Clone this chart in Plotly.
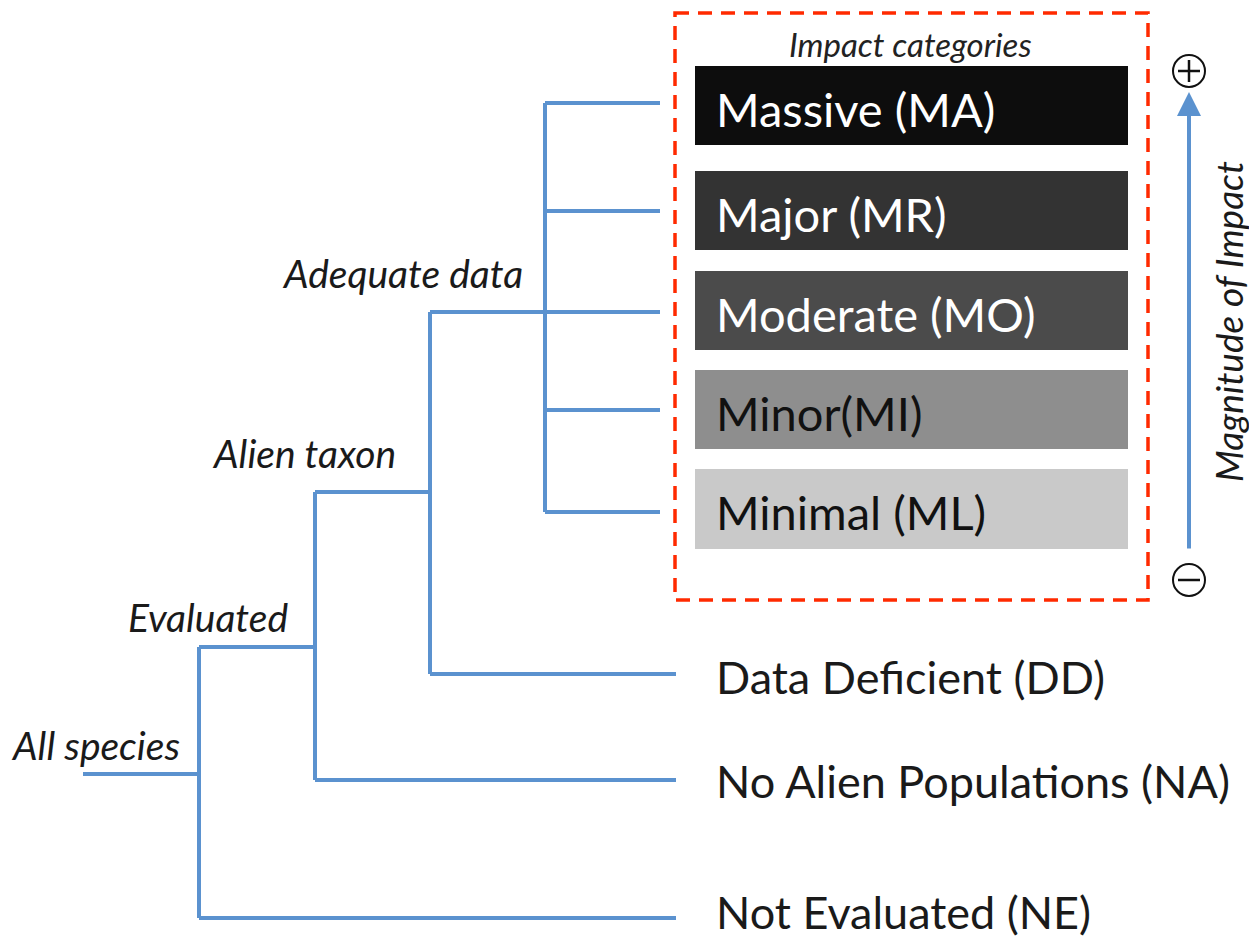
import plotly.graph_objects as go

# ---------------- data (labels / categories) ----------------
impact_categories = ["Massive (MA)", "Major (MR)", "Moderate (MO)", "Minor(MI)", "Minimal (ML)"]
impact_fill = ["#0d0d0d", "#333333", "#4b4b4b", "#8e8e8e", "#c9c9c9"]
impact_text_color = ["#ffffff", "#ffffff", "#ffffff", "#111111", "#111111"]
other_categories = ["Data Deficient (DD)", "No Alien Populations (NA)", "Not Evaluated (NE)"]
branch_labels = ["All species", "Evaluated", "Alien taxon", "Adequate data"]
box_title = "Impact categories"
axis_title = "Magnitude of Impact"

# ---------------- layout geometry (pixel space of the page) ----------------
W, H = 1257, 939
PAGE_MARGIN = 8  # default body margin of the html page
box_x0, box_x1 = 695, 1128
box_top = [66, 171, 271, 370, 469]
box_bot = [145, 250, 350, 449, 549]
impact_branch_y = [103, 211, 312, 410, 512]
other_y = [674, 780, 918]
other_text_y = [677, 781, 912]
label_x = 714
BLUE = "#5b92cf"
FONT = "Lato"

fig = go.Figure()

def seg(xs, ys, x0, y0, x1, y1):
    xs += [x0, x1, None]
    ys += [y0, y1, None]

tx, ty = [], []
seg(tx, ty, 83, 774, 199, 774)                 # All species
seg(tx, ty, 199, 647, 199, other_y[2])
seg(tx, ty, 199, 647, 315, 647)                # Evaluated
seg(tx, ty, 199, other_y[2], 676, other_y[2])  # NE
seg(tx, ty, 315, 492, 315, other_y[1])
seg(tx, ty, 315, other_y[1], 676, other_y[1])  # NA
seg(tx, ty, 315, 492, 430, 492)                # Alien taxon
seg(tx, ty, 430, 312, 430, other_y[0])
seg(tx, ty, 430, other_y[0], 676, other_y[0])  # DD
seg(tx, ty, 430, 312, 545, 312)                # Adequate data
seg(tx, ty, 545, impact_branch_y[0], 545, impact_branch_y[-1])
for yb in impact_branch_y:
    seg(tx, ty, 545, yb, 660, yb)

fig.add_trace(go.Scatter(x=tx, y=ty, mode="lines",
                         line=dict(color=BLUE, width=4), hoverinfo="skip",
                         showlegend=False))

shapes = []
annotations = []

# impact boxes
for i, cat in enumerate(impact_categories):
    shapes.append(dict(type="rect", xref="x", yref="y",
                       x0=box_x0, x1=box_x1, y0=box_top[i], y1=box_bot[i],
                       fillcolor=impact_fill[i], line=dict(width=0), layer="below"))
    annotations.append(dict(x=label_x, y=(box_top[i] + box_bot[i]) / 2 + 3, xref="x", yref="y",
                            text=cat, showarrow=False, xanchor="left", yanchor="middle",
                            font=dict(family=FONT, size=47, color=impact_text_color[i])))

# red dashed frame
shapes.append(dict(type="rect", xref="x", yref="y", x0=675, x1=1148, y0=13, y1=600,
                   line=dict(color="#ff2a00", width=3.5, dash="14px,9px"),
                   fillcolor="rgba(0,0,0,0)"))

annotations.append(dict(x=910, y=44, xref="x", yref="y", text="<i>" + box_title + "</i>",
                        showarrow=False, xanchor="center", yanchor="middle",
                        font=dict(family=FONT, size=33, color="#222222")))

# other categories
for i, cat in enumerate(other_categories):
    annotations.append(dict(x=label_x, y=other_text_y[i], xref="x", yref="y",
                            text=cat, showarrow=False, xanchor="left", yanchor="middle",
                            font=dict(family=FONT, size=45, color="#1a1a1a")))

# branch labels
branch_pos = [(182, 745), (290, 617), (398, 453), (525, 273)]
for lab, (bx, by) in zip(branch_labels, branch_pos):
    annotations.append(dict(x=bx, y=by, xref="x", yref="y", text="<i>" + lab + "</i>",
                            showarrow=False, xanchor="right", yanchor="middle",
                            font=dict(family=FONT, size=39, color="#1a1a1a")))

# magnitude arrow
annotations.append(dict(x=1189, y=92, ax=1189, ay=550, xref="x", yref="y",
                        axref="x", ayref="y", text="", showarrow=True,
                        arrowhead=2, arrowsize=1.2, arrowwidth=4, arrowcolor=BLUE))
annotations.append(dict(x=1228, y=322, xref="x", yref="y", text="<i>" + axis_title + "</i>",
                        showarrow=False, textangle=-90, xanchor="center", yanchor="middle",
                        font=dict(family=FONT, size=37, color="#1a1a1a")))

# plus / minus circles
R = 16
for cy in (71, 580):
    shapes.append(dict(type="circle", xref="x", yref="y", x0=1189 - R, x1=1189 + R,
                       y0=cy - R, y1=cy + R, line=dict(color="#111111", width=2)))
px_, py_ = [], []
seg(px_, py_, 1178, 71, 1200, 71)
seg(px_, py_, 1189, 60, 1189, 82)
seg(px_, py_, 1178, 580, 1200, 580)
fig.add_trace(go.Scatter(x=px_, y=py_, mode="lines", line=dict(color="#111111", width=2.5),
                         hoverinfo="skip", showlegend=False))

fig.update_layout(
    width=W - PAGE_MARGIN, height=H - PAGE_MARGIN, margin=dict(l=0, r=0, t=0, b=0),
    paper_bgcolor="white", plot_bgcolor="white",
    xaxis=dict(range=[PAGE_MARGIN, W], visible=False, fixedrange=True),
    yaxis=dict(range=[H, PAGE_MARGIN], visible=False, fixedrange=True),
    shapes=shapes, annotations=annotations, showlegend=False,
)

fig.write_html("out.html")
